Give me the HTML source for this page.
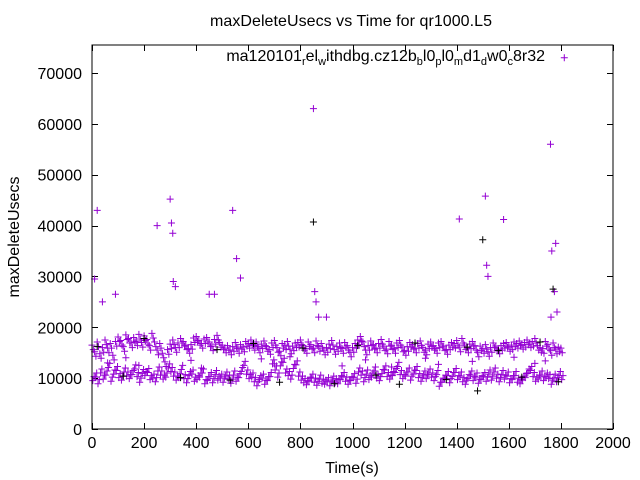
<!DOCTYPE html>
<html><head><meta charset="utf-8"><style>
body{margin:0;background:#fff;}
svg{display:block;font-family:"Liberation Sans",sans-serif;}
</style></head><body>
<svg id="chart" width="640" height="480" viewBox="0 0 640 480">
<text x="351" y="26" font-size="16" text-anchor="middle" textLength="282">maxDeleteUsecs vs Time for qr1000.L5</text>
<text transform="translate(19,237) rotate(-90)" font-size="16" text-anchor="middle">maxDeleteUsecs</text>
<text x="352" y="473" font-size="16" text-anchor="middle">Time(s)</text>
<g id="axes"></g>
<g id="marks"></g>
<text x="545" y="61" font-size="16" text-anchor="end">ma120101<tspan font-size="11" dy="4">r</tspan><tspan dy="-4">el</tspan><tspan font-size="11" dy="4">w</tspan><tspan dy="-4">ithdbg.cz12b</tspan><tspan font-size="11" dy="4">b</tspan><tspan dy="-4">l0</tspan><tspan font-size="11" dy="4">p</tspan><tspan dy="-4">l0</tspan><tspan font-size="11" dy="4">m</tspan><tspan dy="-4">d1</tspan><tspan font-size="11" dy="4">d</tspan><tspan dy="-4">w0</tspan><tspan font-size="11" dy="4">c</tspan><tspan dy="-4">8r32</tspan></text>
<rect x="92" y="45" width="521" height="384" fill="none" stroke="#000" stroke-width="1"/>
</svg>
<script>
const xTicks=[0,200,400,600,800,1000,1200,1400,1600,1800,2000];
const yTicks=[0,10000,20000,30000,40000,50000,60000,70000];
const hiBand=[16.5,15.2,17.1,14.8,16.0,17.5,15.9,16.8,14.5,17.2,18.1,17.4,16.2,18.5,17.8,16.9,18.0,17.3,18.6,17.0,18.3,17.6,16.4,18.8,17.1,15.5,16.8,14.9,13.2,15.6,16.7,17.5,16.0,16.9,17.8,17.2,16.5,15.8,16.6,17.9,18.2,17.4,16.8,17.7,18.0,17.1,16.3,17.6,18.4,17.0,16.5,15.9,16.4,15.5,16.2,17.0,15.8,16.6,16.1,17.2,16.8,17.5,16.4,17.1,15.9,16.7,17.3,16.2,15.6,16.9,17.4,16.0,15.3,16.8,16.5,17.2,15.7,16.3,16.9,17.0,17.5,16.4,15.8,17.1,16.6,15.9,17.3,16.2,16.8,15.5,16.0,16.7,17.4,15.6,16.2,16.9,15.8,17.0,16.4,15.1,16.0,16.8,17.5,18.2,17.1,15.5,16.4,17.3,16.6,15.9,16.8,17.6,16.3,15.7,17.2,16.5,15.8,16.9,17.4,16.1,15.4,16.2,17.0,16.6,15.9,16.8,17.3,16.0,15.5,16.7,17.1,16.4,15.8,16.9,17.2,16.3,15.6,16.5,17.0,16.8,17.4,16.1,17.8,16.5,15.9,16.7,17.2,16.4,15.1,16.3,15.8,16.6,15.2,16.0,16.9,16.3,15.7,16.4,16.8,17.0,16.2,16.5,17.1,16.8,17.3,16.6,17.0,17.5,16.9,17.2,17.8,16.4,16.0,15.8,17.2,16.6,15.4,16.9,15.7,16.1,15.9];
const loBand=[9.5,10.2,8.9,11.0,9.8,10.6,12.1,9.4,10.8,11.5,10.1,9.6,11.2,10.4,9.9,10.7,11.8,10.3,9.2,10.9,10.5,11.1,9.7,10.0,9.3,11.4,10.6,9.8,10.2,12.0,11.3,10.4,9.6,10.1,11.7,9.9,9.1,10.5,10.8,9.4,9.7,10.2,11.0,8.9,9.5,10.3,9.1,10.7,9.6,10.0,9.2,10.4,9.8,9.0,10.6,9.4,10.1,11.3,12.5,10.8,9.9,10.2,9.3,8.5,9.7,10.0,8.8,9.5,10.3,12.8,11.6,10.2,12.4,13.1,11.0,10.5,9.8,11.9,12.6,10.4,9.6,9.1,8.7,9.4,10.0,9.2,8.6,9.8,9.0,8.8,9.3,8.5,9.6,9.1,8.9,9.7,10.3,9.4,8.8,9.5,10.1,9.0,11.2,10.6,9.3,10.8,9.7,10.2,11.4,10.0,9.5,10.9,11.6,10.3,9.8,10.5,11.1,12.3,10.7,9.9,10.4,11.2,9.6,10.8,11.5,10.1,9.4,10.6,9.9,11.0,10.2,9.5,10.7,8.4,9.2,9.8,10.5,9.1,10.3,11.1,9.7,10.4,9.3,8.8,9.9,10.6,9.5,10.2,9.0,9.7,10.3,9.4,10.8,9.6,11.2,10.0,9.3,10.7,9.8,10.4,9.1,9.7,10.5,9.2,8.9,9.6,10.1,11.0,11.5,10.3,9.4,9.8,10.6,9.5,10.2,9.9,8.8,10.0,9.3,10.5,9.7];
const bandStep=10;
const extraTimes=[10,20,40,90,250,300,305,310,312,320,450,470,540,555,570,850,855,860,870,900,1410,1510,1515,1520,1580,1760,1765,1780,1775,1785,1762,60,130,180,380,420,650,700,760,960,1050,1150,1280,1330,1460,1620,1700,1740];
const extraValues=[29500,43000,25000,26500,40000,45200,40500,38500,29000,28000,26500,26500,43000,33500,29700,63000,27000,25000,22000,22000,41300,45800,32200,30000,41200,56000,35000,36500,27000,23000,22000,13000,14000,12500,13500,12000,13800,12800,14200,12400,13600,12200,13900,12700,13300,14100,12900,13400];
const blackTimes=[850,1500,1770,20,120,200,340,480,530,620,720,810,930,1020,1090,1180,1240,1360,1440,1480,1560,1650,1720,1790];
const blackValues=[40700,37200,27500,16200,10400,17800,10100,15600,9600,16800,9200,15900,8900,16400,10600,8800,16900,9700,16100,7500,15400,10200,17100,9300];
const X0=92,X1=613,Y0=429,Ys=(429-73)/70000;
const sx=t=>X0+(t/2000)*(X1-X0);
const sy=v=>Y0-v*Ys;
const NS="http://www.w3.org/2000/svg";
const axes=document.getElementById('axes'),marks=document.getElementById('marks');
function line(g,x1,y1,x2,y2,c){const l=document.createElementNS(NS,'line');l.setAttribute('x1',x1);l.setAttribute('y1',y1);l.setAttribute('x2',x2);l.setAttribute('y2',y2);l.setAttribute('stroke',c);l.setAttribute('stroke-width',1);g.appendChild(l);return l;}
xTicks.forEach(t=>{const x=Math.round(sx(t))+0.5;line(axes,x,429,x,423,'#000');line(axes,x,45,x,51,'#000');
const tx=document.createElementNS(NS,'text');


tx.setAttribute('x',sx(t));tx.setAttribute('y',448);tx.setAttribute('font-size','16');tx.setAttribute('text-anchor','middle');tx.textContent=t;axes.appendChild(tx);});
yTicks.forEach(v=>{const y=Math.round(sy(v))+0.5;line(axes,92,y,98,y,'#000');line(axes,613,y,607,y,'#000');
const tx=document.createElementNS(NS,'text');


tx.setAttribute('x',82);tx.setAttribute('y',sy(v)+6);tx.setAttribute('font-size','16');tx.setAttribute('text-anchor','end');tx.textContent=v;axes.appendChild(tx);});
function plus(t,v,c){const x=sx(t),y=sy(v);const g=document.createElementNS(NS,'path');


g.setAttribute('d',`M${x-3.5} ${y}H${x+3.5}M${x} ${y-3.5}V${y+3.5}`);g.setAttribute('stroke',c);g.setAttribute('stroke-width',1);g.setAttribute('fill','none');marks.appendChild(g);}
const P='#9400d3';
hiBand.forEach((v,i)=>{plus(i*bandStep,v*1000,P);plus(i*bandStep+5,(v-0.9)*1000,P);});
loBand.forEach((v,i)=>{plus(i*bandStep+3,v*1000,P);plus(i*bandStep+8,(v+0.8)*1000,P);});
extraTimes.forEach((t,i)=>plus(t,extraValues[i],P));
blackTimes.forEach((t,i)=>plus(t,blackValues[i],'#000'));
plus(1813,73000,P);
</script>
</body></html>
